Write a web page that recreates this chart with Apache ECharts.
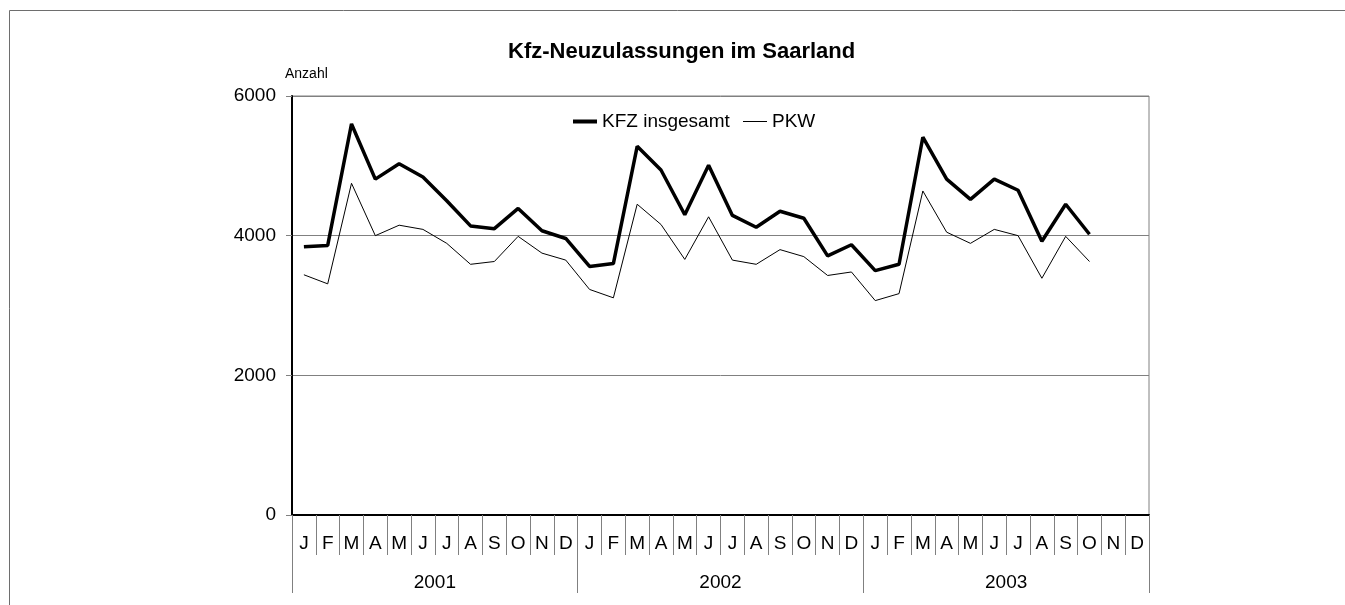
<!DOCTYPE html>
<html>
<head>
<meta charset="utf-8">
<title>Kfz-Neuzulassungen im Saarland</title>
<script src="https://cdn.jsdelivr.net/npm/echarts@6/dist/echarts.min.js"></script>
<style>
    html, body { margin: 0; padding: 0; background: #fff; }
    #chart { width: 1345px; height: 605px; }
</style>
</head>
<body>
<div id="chart"></div>
<script>
    'use strict';

    var monthLetters = ['J', 'F', 'M', 'A', 'M', 'J', 'J', 'A', 'S', 'O', 'N', 'D'];
    var years = ['2001', '2002', '2003'];
    var yTicks = [0, 2000, 4000, 6000];

    // monatswerte jan 2001 - dez 2003 (nov/dez 2003 fehlen)
    var kfzGesamt = [3840, 3860, 5600, 4810, 5030, 4840, 4500, 4140, 4100, 4390, 4070, 3960,
        3560, 3600, 5280, 4940, 4300, 5010, 4290, 4120, 4350, 4250, 3710, 3870,
        3500, 3590, 5410, 4810, 4520, 4810, 4650, 3920, 4450, 4020, null, null];
    var pkw = [3440, 3310, 4750, 4000, 4150, 4090, 3890, 3590, 3630, 3990, 3750, 3650,
        3230, 3110, 4450, 4160, 3660, 4270, 3650, 3590, 3800, 3700, 3430, 3480,
        3070, 3170, 4640, 4050, 3890, 4090, 4000, 3390, 3990, 3630, null, null];

    var months = [];
    years.forEach(function () {
        months = months.concat(monthLetters);
    });

    var font = 'Liberation Sans, Arial, sans-serif';
    var legendText = { fontFamily: font, fontSize: 19, color: '#000' };

    var chart = echarts.init(document.getElementById('chart'));
    chart.setOption({
        animation: false,
        backgroundColor: '#fff',
        textStyle: { fontFamily: font, color: '#000' },
        title: {
            text: 'Kfz-Neuzulassungen im Saarland',
            left: 508,
            top: 41,
            padding: 0,
            textStyle: { fontFamily: font, fontSize: 22, fontWeight: 'bold', color: '#000' }
        },
        // zwei legenden, damit die linienstaerken unterschiedlich sein koennen
        legend: [
            {
                left: 573,
                top: 112,
                padding: 0,
                icon: 'rect',
                itemWidth: 24,
                itemHeight: 4,
                itemGap: 0,
                textStyle: legendText,
                data: ['KFZ insgesamt']
            },
            {
                left: 743,
                top: 112,
                padding: 0,
                icon: 'rect',
                itemWidth: 24,
                itemHeight: 1,
                itemGap: 0,
                textStyle: legendText,
                data: ['PKW']
            }
        ],
        graphic: [
            {
                type: 'rect',
                silent: true,
                shape: { x: 9.5, y: 10.5, width: 1400, height: 700 },
                style: { fill: 'none', stroke: '#6e6e6e', lineWidth: 1 }
            },
            {
                type: 'text',
                left: 285,
                top: 67,
                style: { text: 'Anzahl', font: '14px ' + font, fill: '#000' }
            }
        ],
        grid: {
            left: 292,
            right: 196,
            top: 96,
            bottom: 90,
            show: true,
            borderColor: '#808080',
            borderWidth: 1
        },
        xAxis: [
            {
                type: 'category',
                data: months,
                boundaryGap: true,
                axisLine: { show: true, lineStyle: { color: '#000', width: 2 } },
                axisTick: { show: true, interval: 0, length: 40, lineStyle: { color: '#808080' } },
                axisLabel: { interval: 0, margin: 19, fontSize: 19, color: '#000', fontFamily: font },
                splitLine: { show: false }
            },
            {
                type: 'category',
                data: years,
                position: 'bottom',
                boundaryGap: true,
                axisLine: { show: false },
                axisTick: { show: true, interval: 0, length: 78, lineStyle: { color: '#808080' } },
                axisLabel: { interval: 0, margin: 58, fontSize: 19, color: '#000', fontFamily: font },
                splitLine: { show: false }
            }
        ],
        yAxis: {
            type: 'value',
            min: yTicks[0],
            max: yTicks[yTicks.length - 1],
            interval: yTicks[1] - yTicks[0],
            axisLine: { show: true, lineStyle: { color: '#000', width: 2 } },
            axisTick: { show: true, length: 6, lineStyle: { color: '#808080' } },
            axisLabel: {
                margin: 16,
                fontSize: 19,
                color: '#000',
                fontFamily: font,
                formatter: function (v) {
                    return String(v);
                }
            },
            splitLine: { show: true, lineStyle: { color: '#808080', width: 1 } }
        },
        series: [
            {
                name: 'KFZ insgesamt',
                type: 'line',
                data: kfzGesamt,
                symbol: 'none',
                connectNulls: false,
                lineStyle: { color: '#000', width: 3.5 },
                itemStyle: { color: '#000' }
            },
            {
                name: 'PKW',
                type: 'line',
                data: pkw,
                symbol: 'none',
                connectNulls: false,
                lineStyle: { color: '#000', width: 1 },
                itemStyle: { color: '#000' }
            }
        ]
    });

    window.addEventListener('resize', function () {
        chart.resize();
    });
</script>
</body>
</html>
